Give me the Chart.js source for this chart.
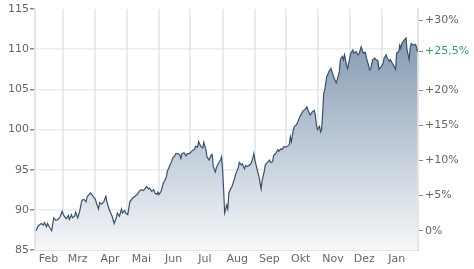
<!DOCTYPE html>
<html>
<head>
<meta charset="utf-8">
<script src="https://cdn.jsdelivr.net/npm/chart.js@4.4.0/dist/chart.umd.min.js"></script>
<style>
  html, body { margin: 0; padding: 0; background: #fff; }
</style>
</head>
<body>
<canvas id="chart" width="474" height="269"></canvas>
<script>
// day number since Feb 1 (x) and closing price (y)
const days = [
  2, 4, 7, 9, 10, 12, 13, 15, 17, 19,
  21, 23, 25, 27, 29, 31, 33, 34, 36, 37,
  39, 40, 42, 44, 46, 48, 50, 51, 54, 56,
  59, 60, 62, 63, 65, 67, 69, 70, 72, 75,
  77, 79, 80, 82, 84, 85, 87, 88, 90, 92,
  95, 97, 99, 101, 103, 105, 107, 108, 110, 111,
  113, 115, 116, 118, 119, 120, 122, 124, 125, 127,
  128, 130, 132, 133, 135, 136, 138, 140, 141, 142,
  144, 146, 147, 149, 150, 152, 154, 155, 157, 158,
  160, 162, 163, 165, 166, 168, 170, 171, 172, 174,
  175, 177, 179, 180, 181, 182, 183, 185, 186, 187,
  189, 190, 192, 194, 196, 197, 199, 200, 202, 203,
  205, 207, 208, 210, 211, 212, 214, 216, 217, 218,
  219, 221, 222, 224, 226, 227, 229, 230, 232, 234,
  235, 237, 238, 240, 242, 243, 245, 246, 247, 249,
  250, 252, 254, 255, 257, 258, 260, 262, 263, 265,
  267, 269, 270, 271, 272, 274, 275, 276, 277, 278,
  279, 280, 281, 283, 285, 286, 288, 290, 291, 293,
  294, 296, 297, 298, 300, 301, 303, 304, 306, 307,
  309, 311, 312, 314, 315, 316, 318, 319, 321, 322,
  323, 325, 327, 328, 330, 331, 333, 335, 336, 338,
  339, 341, 342, 344, 345, 347, 348, 350, 351, 352,
  353, 355, 357, 358, 360, 361, 362, 364, 366, 367, 368
];
const prices = [
  87.4, 88.0, 88.3, 88.1, 88.4, 87.9, 88.3, 87.8, 87.4, 89.0,
  88.7, 88.8, 89.1, 89.8, 89.2, 88.9, 89.3, 88.8, 89.4, 89.0,
  89.2, 89.7, 89.0, 89.9, 91.2, 91.3, 91.0, 91.6, 92.1, 91.8,
  91.3, 90.8, 90.1, 90.9, 90.7, 91.0, 91.7, 91.0, 90.1, 89.2,
  88.3, 89.0, 89.6, 89.2, 90.1, 89.6, 89.9, 89.6, 89.4, 91.0,
  91.5, 91.7, 91.9, 92.3, 92.5, 92.4, 92.7, 92.9, 92.6, 92.7,
  92.3, 92.5, 92.1, 91.9, 92.2, 91.9, 92.3, 93.3, 93.5, 94.1,
  94.8, 95.4, 96.0, 96.4, 96.7, 97.0, 97.0, 96.8, 96.4, 97.0,
  97.1, 96.7, 97.0, 97.0, 97.1, 97.4, 97.5, 97.9, 97.8, 98.5,
  97.9, 97.7, 98.4, 97.5, 96.6, 96.2, 96.8, 96.9, 95.4, 94.7,
  95.2, 95.8, 96.2, 96.6, 95.0, 92.5, 89.6, 90.6, 90.1, 92.1,
  92.7, 92.9, 93.7, 94.6, 95.2, 95.9, 95.6, 95.7, 95.1, 95.5,
  95.4, 95.6, 95.7, 96.4, 97.0, 96.2, 95.1, 94.1, 93.3, 92.6,
  93.7, 94.8, 95.6, 95.9, 96.2, 95.9, 96.0, 96.8, 97.0, 97.5,
  97.3, 97.6, 97.5, 97.9, 97.8, 97.9, 98.1, 99.1, 98.5, 100.0,
  100.4, 100.6, 101.2, 101.6, 102.0, 102.3, 102.5, 102.8, 102.4, 101.8,
  102.2, 102.4, 101.8, 100.6, 100.0, 100.4, 99.7, 100.0, 102.0, 104.5,
  104.9, 105.8, 106.6, 107.2, 107.6, 107.2, 106.4, 105.8, 106.2, 107.2,
  108.7, 109.1, 108.7, 109.3, 108.0, 107.6, 108.9, 109.5, 109.9, 109.5,
  109.7, 109.3, 109.4, 110.3, 109.9, 109.5, 109.6, 108.9, 108.0, 107.4,
  107.5, 108.7, 108.9, 108.7, 108.6, 107.5, 107.8, 108.2, 108.9, 109.3,
  108.9, 108.5, 108.7, 108.2, 108.0, 107.5, 109.5, 109.7, 110.5, 110.1,
  110.7, 111.1, 111.4, 109.9, 108.7, 110.1, 110.7, 110.5, 110.6, 110.3, 109.7
];

const monthStarts = [28, 59, 89, 120, 150, 181, 212, 242, 273, 303, 334];
const monthMids = [14, 42, 73, 103, 134, 164, 195, 226, 256, 287, 317, 348];
const monthNames = ['Feb', 'Mrz', 'Apr', 'Mai', 'Jun', 'Jul', 'Aug', 'Sep', 'Okt', 'Nov', 'Dez', 'Jan'];
const priceTicks = [85, 90, 95, 100, 105, 110, 115];
const pctTicks = [0, 5, 10, 15, 20, 30];

const base = prices[0];
const lastPct = (prices[prices.length - 1] / base - 1) * 100;
const pct = (v) => (v / base - 1) * 100;

const font = { family: 'DejaVu Sans', size: 11 };
const textColor = '#666';
const gridColor = 'rgba(215,220,226,0.55)';
const edgeColor = '#e2e4e7';

const points = days.map((d, i) => ({ x: d, y: prices[i] }));

new Chart(document.getElementById('chart'), {
  type: 'line',
  data: {
    datasets: [{
      data: points,
      borderColor: '#36526f',
      borderWidth: 1.2,
      pointRadius: 0,
      tension: 0,
      fill: 'start',
      backgroundColor: (ctx) => {
        const a = ctx.chart.chartArea;
        if (!a) return 'rgba(0,0,0,0)';
        const g = ctx.chart.ctx.createLinearGradient(0, a.top, 0, a.bottom);
        g.addColorStop(0, '#768ea9');
        g.addColorStop(1, '#f6f8fa');
        return g;
      }
    }]
  },
  options: {
    responsive: false,
    animation: false,
    layout: { padding: { top: 9, left: 0, right: 0, bottom: 0 } },
    plugins: { legend: { display: false }, tooltip: { enabled: false } },
    scales: {
      x: {
        type: 'linear',
        z: 1,
        min: 1,
        max: 368.5,
        afterBuildTicks: (s) => {
          s.ticks = [...monthStarts, ...monthMids].sort((a, b) => a - b).map((v) => ({ value: v }));
        },
        afterFit: (s) => { s.height = 19; },
        grid: {
          drawTicks: false,
          lineWidth: 2,
          color: (ctx) => (ctx.tick && monthStarts.includes(ctx.tick.value)) ? gridColor : 'rgba(0,0,0,0)'
        },
        border: { color: edgeColor, width: 2 },
        ticks: {
          autoSkip: false,
          maxRotation: 0,
          padding: 3,
          font: font,
          color: textColor,
          callback: (v) => {
            const i = monthMids.indexOf(v);
            return i >= 0 ? monthNames[i] : '';
          }
        }
      },
      y: {
        position: 'left',
        z: 1,
        min: 85,
        max: 115,
        afterBuildTicks: (s) => { s.ticks = priceTicks.map((v) => ({ value: v })); },
        afterFit: (s) => { s.width = 35; },
        grid: {
          color: (ctx) => (ctx.tick && ctx.tick.value === 115) ? 'rgba(0,0,0,0)' : gridColor,
          lineWidth: 1.5,
          tickColor: '#888',
          tickLength: 5
        },
        border: { color: edgeColor, width: 2 },
        ticks: { font: font, color: textColor, padding: 1 }
      },
      pct: {
        position: 'right',
        z: 1,
        min: pct(85),
        max: pct(115),
        afterBuildTicks: (s) => {
          s.ticks = [...pctTicks, lastPct].sort((a, b) => a - b).map((v) => ({ value: v }));
        },
        afterFit: (s) => { s.width = 56; },
        grid: { drawOnChartArea: false, tickColor: '#888', tickLength: 5 },
        border: { color: edgeColor, width: 2 },
        ticks: {
          font: font,
          padding: 2,
          color: (ctx) => ctx.tick && ctx.tick.value === lastPct ? '#3f9a62' : textColor,
          callback: (v) => {
            if (v === lastPct) return '+' + v.toFixed(1).replace('.', ',') + '%';
            return v === 0 ? '0%' : '+' + v + '%';
          }
        }
      }
    }
  }
});
</script>
</body>
</html>
